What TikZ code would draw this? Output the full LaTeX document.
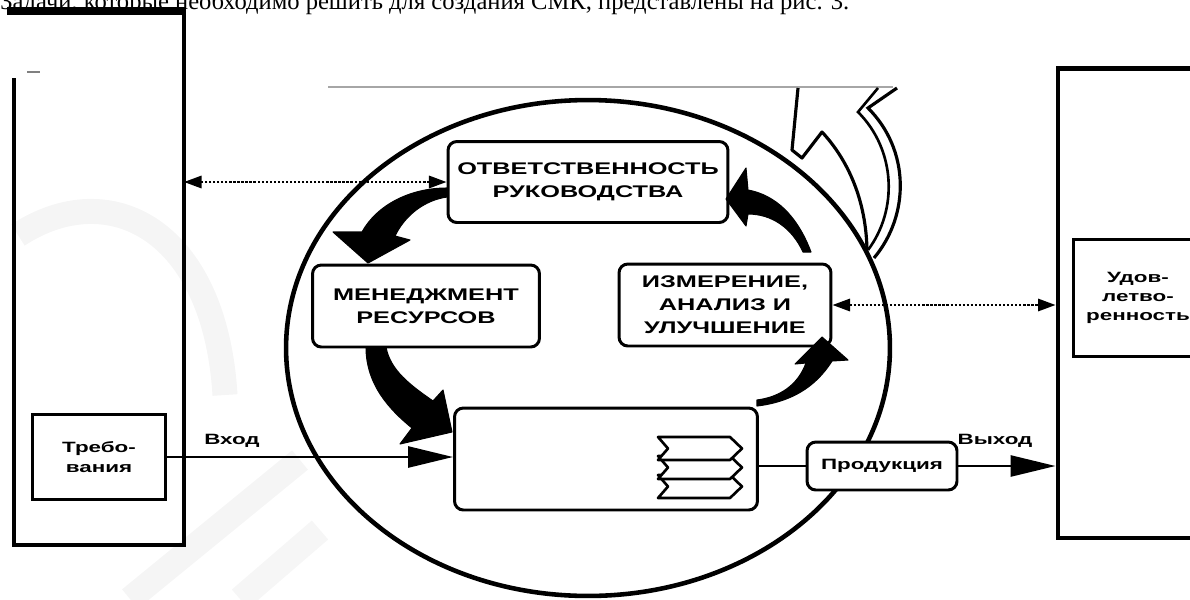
\documentclass[tikz,border=0pt]{standalone}
\usepackage{fontspec}
\setmainfont{Liberation Sans}
\newfontfamily\txtfont{Liberation Serif}
\newfontfamily\dfont[FakeStretch=1.5]{Liberation Sans}
\usetikzlibrary{arrows.meta}

\begin{document}
\begin{tikzpicture}[x=0.02cm, y=-0.02cm]

\tikzstyle{every node} = [inner sep=0pt, font=\dfont\bfseries\fontsize{9.6}{13}\selectfont]
\tikzstyle{stage} = [rectangle, rounded corners=5pt, draw, line width=1.7pt, fill=white, align=center]
\tikzstyle{plain} = [rectangle, draw, line width=1.7pt, fill=white, align=center]
\tikzstyle{lbl} = [font=\dfont\bfseries\fontsize{8.5}{11}\selectfont]
\tikzstyle{swoosh} = [fill=black, draw=black, line width=0.6pt, line join=round]
\tikzstyle{link} = [densely dotted, line width=1.3pt, {Triangle[length=10pt,width=7pt]}-{Triangle[length=10pt,width=7pt]}]
\tikzstyle{flow} = [line width=1.5pt, -{Triangle[length=0.9cm,width=0.42cm]}]

\useasboundingbox (0,0) rectangle (1190,599);

% watermark
\draw[gray!8, line width=0.5cm] (18,235) .. controls (110,175) and (215,230) .. (225,395);
\draw[gray!8, line width=0.5cm] (130,599) -- (300,460);
\draw[gray!7, line width=0.5cm] (240,599) -- (320,530);

\node[anchor=base west, font=\txtfont\fontsize{14}{16}\selectfont] (intro) at (0,9)
  {Задачи, которые необходимо решить для создания СМК, представлены на рис. 3.};

% left frame
\draw[line width=2.6pt] (14,78) -- (14,545) -- (184,545) -- (184,12);
\draw[line width=4pt] (7,11) -- (186,11);
\draw[gray, line width=0.8pt] (27,72) -- (40,72);
\coordinate (lf) at (184,300);

% process circle
\draw[line width=2.6pt] (588,348) ellipse [x radius=6.04cm, y radius=4.96cm];
\draw[gray!70, line width=1pt] (328,87) -- (893,87);

% hollow arrow
\draw[line width=1.8pt, line join=round] (798,88) -- (792,150) -- (802,158) -- (822,132)
  .. controls (848,160) and (866,200) .. (867,250);
\draw[line width=1.8pt] (874,258) .. controls (910,215) and (910,150) .. (868,108) -- (897,88);
\draw[line width=1.5pt] (868,250) .. controls (898,210) and (896,150) .. (858,112) -- (878,88);

\node[stage, minimum width=5.6cm, minimum height=1.62cm] (r) at (588,182) {ОТВЕТСТВЕННОСТЬ\\РУКОВОДСТВА};
\node[stage, minimum width=4.54cm, minimum height=1.64cm] (m) at (426,306) {МЕНЕДЖМЕНТ\\РЕСУРСОВ};
\node[stage, minimum width=4.24cm, minimum height=1.64cm] (i) at (725,305) {ИЗМЕРЕНИЕ,\\АНАЛИЗ И\\УЛУЧШЕНИЕ};
\node[stage, minimum width=6.06cm, minimum height=2.04cm] (p) at (606,459) {};
\node[stage, lbl, minimum width=3.0cm, minimum height=0.96cm] (q) at (882,466) {Продукция};

\node[plain, lbl, minimum width=2.66cm, minimum height=1.7cm] (t) at (99,457) {Требо-\\вания};
\node[draw, line width=2.8pt, minimum width=4.04cm, minimum height=9.4cm] (k) at (1159,303) {};
\node[plain, lbl, minimum width=2.6cm, minimum height=2.34cm] (u) at (1138,298) {Удов-\\летво-\\ренность};

\foreach \y in {475,456,437}
  \draw[line width=1.5pt, fill=white, line join=round] (658,\y) -- (730,\y) -- (742,\y+11.5)
    -- (730,\y+23) -- (658,\y+23) -- (668,\y+11.5) -- cycle;

% cycle arrows
\fill[swoosh] (447,188) .. controls (410,188) and (377,205) .. (362,232) -- (333,232) -- (368,263)
  -- (410,240) -- (395,236) .. controls (405,215) and (425,200) .. (447,197) -- cycle;
\fill[swoosh] (366,347) .. controls (366,385) and (390,410) .. (412,428) -- (400,444) -- (452,432)
  -- (443,390) -- (433,401) .. controls (410,385) and (390,370) .. (386,347) -- cycle;
\fill[swoosh] (757,406) .. controls (790,402) and (815,388) .. (832,361) -- (848,360) -- (822,337)
  -- (795,364) -- (806,363) .. controls (798,385) and (780,397) .. (757,400) -- cycle;
\fill[swoosh] (811,252) .. controls (797,215) and (775,195) .. (748,190) -- (746,168) -- (726,199)
  -- (746,226) -- (748,214) .. controls (772,214) and (792,228) .. (803,252) -- cycle;

\draw[link] (r.west) -- (r.west -| lf);
\draw[link] (i.east) -- (i.east -| k.west);

\draw[flow] (t.east) -- (t.east -| p.west);
\draw[line width=1.5pt] (p.east |- q.west) -- (q.west);
\draw[flow] (q.east) -- (q.east -| k.west);

\node[lbl] (vin) at (232,441) {Вход};
\node[lbl] (vout) at (995,441) {Выход};

\end{tikzpicture}
\end{document}
